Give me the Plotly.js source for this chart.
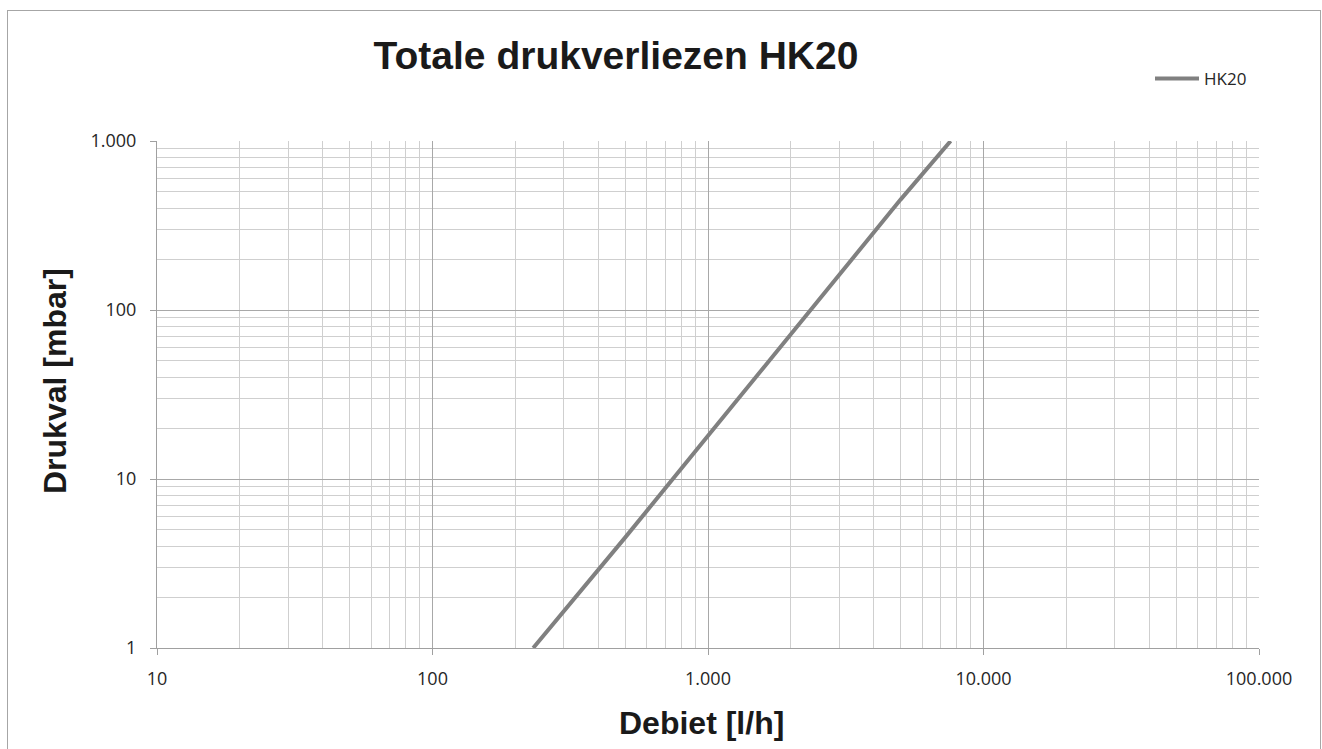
<!DOCTYPE html>
<html>
<head>
<meta charset="utf-8">
<script src="https://cdn.plot.ly/plotly-3.0.1.min.js"></script>
<style>
  html, body { margin: 0; padding: 0; background: #fff; }
  #wrap { position: relative; width: 1322px; height: 749px; overflow: hidden; }
  #chart { position: absolute; left: 0; top: 0; width: 1322px; height: 749px; }
  #frame { position: absolute; left: 7px; top: 10px; width: 1312px; height: 760px; border: 1px solid #a6a6a6; pointer-events: none; }
</style>
</head>
<body>
<div id="wrap">
  <div id="chart"></div>
  <div id="frame"></div>
</div>
<script>
// Data
const seriesName = "HK20";
const debiet = [232, 500, 1000, 2000, 5000, 7600];      // l/h
const drukval = [1, 4.5, 18, 72, 450, 1000];             // mbar

const xMajorVals = [10, 100, 1000, 10000, 100000];
const xMajorText = ["10", "100", "1.000", "10.000", "100.000"];
const yMajorVals = [1, 10, 100, 1000];
const yMajorText = ["1", "10", "100", "1.000"];

const chartTitle = "Totale drukverliezen HK20";
const xTitle = "Debiet [l/h]";
const yTitle = "Drukval [mbar]";

function minorVals(lo, hi) {
  const out = [];
  for (let d = lo; d < hi; d *= 10) {
    for (let m = 2; m <= 9; m++) out.push(d * m);
  }
  return out;
}

const trace = {
  x: debiet, y: drukval, name: seriesName, type: "scatter", mode: "lines",
  line: { color: "#808080", width: 4 }
};

const titleFont = { family: "Liberation Sans, Arial, sans-serif", color: "#1a1a1a", weight: "bold" };

const axisCommon = {
  type: "log",
  tickmode: "array",
  showline: true, linecolor: "#a0a0a0", linewidth: 1, mirror: false,
  showgrid: true, gridcolor: "#a8a8a8", gridwidth: 1,
  ticks: "outside", ticklen: 6, tickcolor: "#a0a0a0", tickwidth: 1,
  zeroline: false, automargin: false,
  tickfont: { family: "Open Sans, Noto Sans, sans-serif", size: 18, color: "#262626" }
};

const layout = {
  width: 1322, height: 749,
  margin: { l: 157, r: 63, t: 141, b: 101, autoexpand: false },
  paper_bgcolor: "rgba(0,0,0,0)", plot_bgcolor: "#fff",
  showlegend: true,
  title: {
    text: chartTitle,
    font: Object.assign({ size: 39 }, titleFont),
    xref: "container", yref: "container",
    x: 616 / 1322, xanchor: "center",
    y: 1 - 55 / 749, yanchor: "middle"
  },
  xaxis: Object.assign({}, axisCommon, {
    range: [1, 5],
    tickvals: xMajorVals, ticktext: xMajorText,
    ticklabelstandoff: 8,
    minor: { tickmode: "array", tickvals: minorVals(10, 100000), showgrid: true, gridcolor: "#cfcfcf", gridwidth: 1, ticks: "" }
  }),
  yaxis: Object.assign({}, axisCommon, {
    range: [0, 3],
    tickvals: yMajorVals, ticktext: yMajorText,
    ticklabelstandoff: 10,
    minor: { tickmode: "array", tickvals: minorVals(1, 1000), showgrid: true, gridcolor: "#cfcfcf", gridwidth: 1, ticks: "" }
  }),
  annotations: [
    { text: xTitle, xref: "paper", yref: "paper", x: (701 - 157) / 1102, y: (648 - 723) / 507,
      xanchor: "center", yanchor: "middle", showarrow: false, font: Object.assign({ size: 32 }, titleFont) },
    { text: yTitle, xref: "paper", yref: "paper", x: (55 - 157) / 1102, y: (648 - 381) / 507,
      xanchor: "center", yanchor: "middle", textangle: -90, showarrow: false, font: Object.assign({ size: 32 }, titleFont) }
  ],
  legend: {
    x: 1150 / 1322, xref: "container", xanchor: "left",
    y: 1 - 79 / 749, yref: "container", yanchor: "middle",
    bgcolor: "rgba(0,0,0,0)",
    font: { family: "Open Sans, Noto Sans, sans-serif", size: 17, color: "#262626" },
    itemwidth: 44
  }
};

Plotly.newPlot("chart", [trace], layout, { staticPlot: true, displayModeBar: false });
</script>
</body>
</html>
